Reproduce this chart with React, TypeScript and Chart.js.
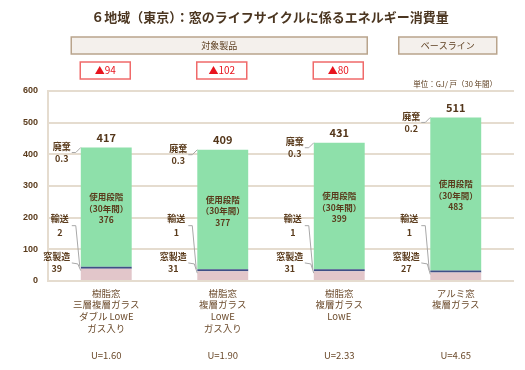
import React, { useEffect, useRef } from 'react';
import { Chart, registerables } from 'chart.js';

Chart.register(...registerables);

// ---- data ----
const title = '６地域（東京）：窓のライフサイクルに係るエネルギー消費量';
const unitLabel = '単位：GJ/ 戸（30 年間）';
const groupLabels = ['対象製品', 'ベースライン'];
const categories = ['樹脂窓A', '樹脂窓B', '樹脂窓C', 'アルミ窓'];
const categoryLines = [
  ['樹脂窓', '三層複層ガラス', 'ダブル LowE', 'ガス入り'],
  ['樹脂窓', '複層ガラス', 'LowE', 'ガス入り'],
  ['樹脂窓', '複層ガラス', 'LowE'],
  ['アルミ窓', '複層ガラス'],
];
const uValues = ['U=1.60', 'U=1.90', 'U=2.33', 'U=4.65'];
const seriesNames = ['窓製造', '輸送', '使用段階', '廃棄'];
const manufacturing = [39, 31, 31, 27];
const transport = [2, 1, 1, 1];
const usePhase = [376, 377, 399, 483];
const disposal = [0.3, 0.3, 0.3, 0.2];
const baselineIndex = 3;

const JP = '"Noto Sans CJK JP", "Noto Sans", sans-serif';
const BROWN = '#5a3b1c';
const LABEL_BROWN = '#6b4a2b';

const totals = categories.map((_, i) =>
  Math.round(manufacturing[i] + transport[i] + usePhase[i] + disposal[i])
);

const fmt = (v: number) => (Number.isInteger(v) ? String(v) : v.toFixed(1));

const overlayPlugin = {
  id: 'overlay',
  afterDraw(chart: any) {
    const { ctx } = chart;
    const y = chart.scales.y;
    const mMan = chart.getDatasetMeta(0);
    const mTr = chart.getDatasetMeta(1);
    const mUse = chart.getDatasetMeta(2);
    const mDis = chart.getDatasetMeta(3);
    ctx.save();
    ctx.textAlign = 'center';
    ctx.textBaseline = 'middle';

    // title
    ctx.fillStyle = '#4b3621';
    ctx.font = `bold 13px ${JP}`;
    ctx.fillText(title, 270, 17);

    // group boxes
    const bx = (i: number) => mMan.data[i].x;
    const drawBox = (x0: number, x1: number, text: string) => {
      ctx.fillStyle = '#f4f0ec';
      ctx.fillRect(x0, 37, x1 - x0, 17);
      ctx.strokeStyle = '#b9a48c';
      ctx.lineWidth = 1.5;
      ctx.strokeRect(x0, 37, x1 - x0, 17);
      ctx.fillStyle = BROWN;
      ctx.font = `9px ${JP}`;
      ctx.fillText(text, (x0 + x1) / 2, 45.5);
    };
    drawBox(bx(0) - 35, bx(2) + 28, groupLabels[0]);
    drawBox(bx(3) - 57, bx(3) + 41, groupLabels[1]);

    // reduction boxes
    categories.forEach((_, i) => {
      if (i === baselineIndex) return;
      const cx = bx(i) - 1;
      ctx.fillStyle = '#ffffff';
      ctx.fillRect(cx - 25, 62, 50, 17);
      ctx.strokeStyle = '#f06a6a';
      ctx.lineWidth = 1.5;
      ctx.strokeRect(cx - 25, 62, 50, 17);
      ctx.fillStyle = '#e8141e';
      ctx.font = `10px ${JP}`;
      ctx.fillText('▲' + (totals[baselineIndex] - totals[i]), cx, 70.5);
    });

    // unit label
    ctx.textAlign = 'right';
    ctx.fillStyle = BROWN;
    ctx.font = `7.5px ${JP}`;
    ctx.fillText(unitLabel, 497, 84);
    ctx.textAlign = 'center';

    categories.forEach((_, i) => {
      const bar = mMan.data[i];
      const cx = bar.x;
      const left = cx - bar.width / 2;
      const top = mDis.data[i].y;

      // total
      ctx.fillStyle = '#54361a';
      ctx.font = `bold 11px ${JP}`;
      ctx.fillText(String(totals[i]), cx, top - 10);

      // in-bar text
      const mid = (mUse.data[i].y + mUse.data[i].base) / 2 + 1;
      ctx.fillStyle = BROWN;
      ctx.font = `bold 8.5px ${JP}`;
      ctx.fillText(seriesNames[2], cx, mid - 11);
      ctx.fillText('（30年間）', cx, mid + 0.5);
      ctx.fillText(fmt(usePhase[i]), cx, mid + 12);

      // side labels
      ctx.font = `bold 9px ${JP}`;
      ctx.strokeStyle = '#a8a8a8';
      ctx.lineWidth = 1;

      // disposal
      const dn = top - 1;
      ctx.fillText(seriesNames[3], left - 19, dn);
      ctx.fillText(fmt(disposal[i]), left - 19, dn + 12);
      ctx.beginPath();
      ctx.moveTo(left - 9, dn + 6);
      ctx.lineTo(left - 5, dn + 6);
      ctx.lineTo(left, top);
      ctx.stroke();

      // transport
      const tn = y.getPixelForValue(200) + 1;
      ctx.fillText(seriesNames[1], left - 21, tn);
      ctx.fillText(fmt(transport[i]), left - 21, tn + 14);
      ctx.beginPath();
      ctx.moveTo(left - 9, tn + 7);
      ctx.lineTo(left - 5, tn + 7);
      ctx.lineTo(left - 1, mTr.data[i].y);
      ctx.stroke();

      // manufacturing
      const mn = y.getPixelForValue(76);
      ctx.fillText(seriesNames[0], left - 24, mn);
      ctx.fillText(fmt(manufacturing[i]), left - 24, mn + 12);
      ctx.beginPath();
      ctx.moveTo(left - 9, mn + 6);
      ctx.lineTo(left - 3, mn + 7);
      ctx.lineTo(left, mMan.data[i].y + 2);
      ctx.stroke();

      // category labels
      ctx.fillStyle = LABEL_BROWN;
      ctx.font = `9.5px ${JP}`;
      categoryLines[i].forEach((line, k) => {
        ctx.fillText(line, cx, 293 + k * 11.8);
      });
      ctx.fillText(uValues[i], cx, 355);
    });

    ctx.restore();
  },
};

export default function App() {
  const ref = useRef<HTMLCanvasElement>(null);
  useEffect(() => {
    if (!ref.current) return;
    const chart = new Chart(ref.current, {
      type: 'bar',
      data: {
        labels: categories,
        datasets: [
          { label: seriesNames[0], data: manufacturing, backgroundColor: '#e2c6ca' },
          { label: seriesNames[1], data: transport, backgroundColor: '#3f4f86', minBarLength: 2 },
          { label: seriesNames[2], data: usePhase, backgroundColor: '#8ee0aa' },
          { label: seriesNames[3], data: disposal, backgroundColor: '#8ee0aa' },
        ],
      },
      options: {
        animation: false,
        responsive: false,
        devicePixelRatio: 1,
        datasets: { bar: { barPercentage: 0.437, categoryPercentage: 1 } },
        layout: { padding: { top: 91, right: 11, left: 0, bottom: 0 } },
        plugins: { legend: { display: false }, tooltip: { enabled: false }, title: { display: false } },
        scales: {
          x: {
            stacked: true,
            grid: { display: false },
            border: { display: false },
            ticks: { display: false },
            afterFit: (s: any) => { s.height = 89; },
          },
          y: {
            stacked: true,
            min: 0,
            max: 600,
            ticks: {
              stepSize: 100,
              padding: 10,
              color: BROWN,
              font: { family: '"Liberation Sans", sans-serif', size: 9, weight: 'bold' },
            },
            grid: { color: '#e5dccf', lineWidth: 2, drawTicks: false },
            border: { display: true, color: '#e5dccf', width: 2 },
            afterFit: (s: any) => { s.width = 48; },
          },
        },
      } as any,
      plugins: [overlayPlugin],
    });
    return () => chart.destroy();
  }, []);
  return (
    <div style={{ position: 'absolute', left: 0, top: 0, width: 525, height: 370, background: '#fff' }}>
      <canvas ref={ref} width={525} height={370} />
    </div>
  );
}
